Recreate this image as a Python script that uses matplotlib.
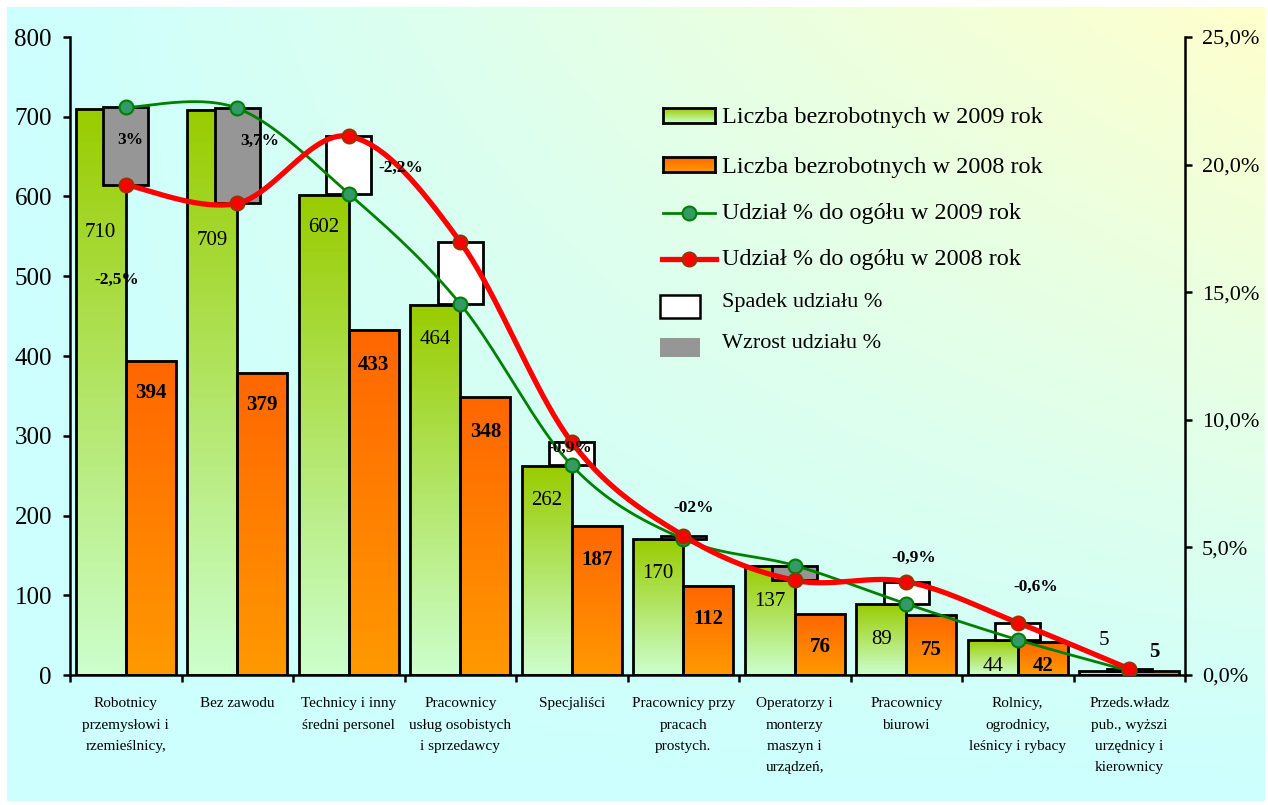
import numpy as np
import matplotlib
matplotlib.use('Agg')
from matplotlib import pyplot as plt
from matplotlib.lines import Line2D
from matplotlib.patches import Rectangle
from matplotlib.ticker import FuncFormatter, MultipleLocator

plt.rcParams['font.family'] = ['Liberation Serif', 'DejaVu Serif']

#%% data
categories = ['Robotnicy\nprzemysłowi i\nrzemieślnicy,', 'Bez zawodu',
              'Technicy i inny\nśredni personel', 'Pracownicy\nusług osobistych\ni sprzedawcy',
              'Specjaliści', 'Pracownicy przy\npracach\nprostych.',
              'Operatorzy i\nmonterzy\nmaszyn i\nurządzeń,', 'Pracownicy\nbiurowi',
              'Rolnicy,\nogrodnicy,\nleśnicy i rybacy',
              'Przeds.władz\npub., wyższi\nurzędnicy i\nkierownicy']
count_2009 = [710, 709, 602, 464, 262, 170, 137, 89, 44, 5]
count_2008 = [394, 379, 433, 348, 187, 112, 76, 75, 42, 5]
share_2009 = [22.24, 22.21, 18.86, 14.54, 8.21, 5.33, 4.29, 2.79, 1.38, 0.16]   # % of total
share_2008 = [19.21, 18.48, 21.11, 16.97, 9.12, 5.46, 3.71, 3.66, 2.05, 0.24]
diff_labels = ['3%', '-2,5%', '3,7%', '-2,2%', '-0,9%', '-02%', '-0,9%', '-0,6%']

# label placement (layout only)
lab09_off = [-124, -131, -33, -35, -34, -34, -36, -35, -27, 31]   # px from bar top
lab08_off = [-32, -32, -35, -35, -34, -33, -33, -35, -24, 19]
diff_pos = [(0.04, 20.96), (-0.08, 15.48), (1.20, 20.92), (2.47, 19.87),
            (3.98, 8.89), (5.09, 6.54), (7.07, 4.58), (8.16, 3.45)]

W, H = 1268, 805
def px2fig(x, y, w, h):
    return [x / W, 1 - (y + h) / H, w / W, h / H]

def smooth(xs, ys, n=40):
    pts = np.column_stack([xs, ys]).astype(float)
    P = np.vstack([pts[0], pts, pts[-1]])
    out = []
    for i in range(len(pts) - 1):
        p0, p1, p2, p3 = P[i], P[i + 1], P[i + 2], P[i + 3]
        c1 = p1 + (p2 - p0) / 6
        c2 = p2 - (p3 - p1) / 6
        t = np.linspace(0, 1, n)[:, None]
        out.append((1 - t)**3 * p1 + 3 * (1 - t)**2 * t * c1 + 3 * (1 - t) * t**2 * c2 + t**3 * p2)
    out = np.vstack(out)
    return out[:, 0], out[:, 1]

def vgrad(top, bottom, n=100):
    top = np.array(matplotlib.colors.to_rgb(top))
    bottom = np.array(matplotlib.colors.to_rgb(bottom))
    t = np.linspace(0, 1, n)[:, None]
    return (top * (1 - t) + bottom * t)[:, None, :]

GREEN_TOP, GREEN_BOT = '#99CC00', '#CCFFCC'
ORANGE_TOP, ORANGE_BOT = '#FF6600', '#FF9900'

fig = plt.figure(figsize=(W / 100, H / 100), dpi=100, facecolor='white')

#%% background gradient
bg = fig.add_axes(px2fig(7, 7, 1258, 794), zorder=-5)
xx, yy = np.meshgrid(np.linspace(0, 1, 300), np.linspace(0, 1, 200))
tt = np.clip(xx * (1 - yy), 0, 1)[:, :, None]
cyan = np.array([0.80, 1.0, 1.0]); yellow = np.array([1.0, 1.0, 0.80])
bg.imshow(cyan * (1 - tt) + yellow * tt, aspect='auto', extent=(0, 1, 0, 1), origin='upper')
bg.set_axis_off()

#%% main axes
ax = fig.add_axes(px2fig(70, 37, 1115, 638))
ax.set_facecolor('none')
x = np.arange(len(categories))
w = 0.45

bars09 = ax.bar(x - w / 2, count_2009, w, facecolor='none', edgecolor='black', linewidth=2, zorder=3)
bars08 = ax.bar(x + w / 2, count_2008, w, facecolor='none', edgecolor='black', linewidth=2, zorder=3)
for bars, top, bot in [(bars09, GREEN_TOP, GREEN_BOT), (bars08, ORANGE_TOP, ORANGE_BOT)]:
    for b in bars:
        x0, y0, bw, bh = b.get_x(), b.get_y(), b.get_width(), b.get_height()
        ax.imshow(vgrad(top, bot), aspect='auto', extent=(x0, x0 + bw, y0, y0 + bh),
                  origin='upper', zorder=2)

for i in range(len(categories)):
    ax.annotate(str(count_2009[i]), (x[i] - w / 2, count_2009[i]), xytext=(0, lab09_off[i] * 0.72),
                textcoords='offset points', ha='center', va='center', fontsize=15, zorder=4)
    ax.annotate(str(count_2008[i]), (x[i] + w / 2, count_2008[i]), xytext=(0, lab08_off[i] * 0.72),
                textcoords='offset points', ha='center', va='center', fontsize=15,
                fontweight='bold', zorder=4)

ax.set_xlim(-0.5, len(categories) - 0.5)
ax.set_ylim(0, 800)
ax.yaxis.set_major_locator(MultipleLocator(100))
ax.set_xticks(np.arange(-0.5, len(categories)))
ax.set_xticklabels([])
ax.set_xticks(x, minor=True)
ax.set_xticklabels(categories, minor=True, fontsize=11, linespacing=1.84)
ax.tick_params(axis='x', which='minor', length=0, pad=16)
ax.tick_params(axis='x', which='major', length=5, width=1.8, direction='out')
ax.tick_params(axis='y', length=5, width=1.8, direction='out', labelsize=18, pad=8)
for s in ['top', 'right']:
    ax.spines[s].set_visible(False)
for s in ['left', 'bottom']:
    ax.spines[s].set_linewidth(1.8)

#%% secondary axis: shares and up/down boxes
ax2 = ax.twinx()
ax2.set_ylim(0, 25)
ax2.yaxis.set_major_locator(MultipleLocator(5))
ax2.yaxis.set_major_formatter(FuncFormatter(lambda v, p: ('%.1f%%' % v).replace('.', ',')))
ax2.tick_params(axis='y', length=5, width=1.8, direction='out', labelsize=16, pad=7)
for s in ['top', 'left', 'bottom']:
    ax2.spines[s].set_visible(False)
ax2.spines['right'].set_linewidth(1.8)

bw2 = 0.4
for i in range(len(categories)):
    lo, hi = min(share_2008[i], share_2009[i]), max(share_2008[i], share_2009[i])
    fc = '#969696' if share_2009[i] > share_2008[i] else 'white'
    ax2.bar(x[i], hi - lo, bw2, bottom=lo, facecolor=fc, edgecolor='black', linewidth=2, zorder=2)

sx, sy = smooth(x, share_2009)
ax2.plot(sx, sy, color='#008000', lw=2, zorder=3)
ax2.plot(x, share_2009, ls='none', marker='o', ms=10, mfc='#339966', mec='#008000', mew=1.5, zorder=4)
sx, sy = smooth(x, share_2008)
ax2.plot(sx, sy, color='#FF0000', lw=3.8, zorder=5)
ax2.plot(x, share_2008, ls='none', marker='o', ms=10, mfc='#FF0000', mec='#993300', mew=1.5, zorder=6)

for txt, (px_, py_) in zip(diff_labels, diff_pos):
    ax2.text(px_, py_, txt, ha='center', va='center', fontsize=12.5, fontweight='bold', zorder=7)

#%% legend (drawn by hand)
for (yy0, top, bot) in [(108, GREEN_TOP, GREEN_BOT), (157, ORANGE_TOP, ORANGE_BOT)]:
    la = fig.add_axes(px2fig(663, yy0, 52, 15))
    la.imshow(vgrad(top, bot), aspect='auto', extent=(0, 1, 0, 1), origin='upper')
    la.set_xticks([]); la.set_yticks([])
    for s in la.spines.values():
        s.set_linewidth(2)

fig.add_artist(Line2D([663 / W, 715 / W], [1 - 213 / H] * 2, color='#008000', lw=2))
fig.add_artist(Line2D([689 / W], [1 - 213 / H], ls='none', marker='o', ms=10,
                      mfc='#339966', mec='#008000', mew=1.5))
fig.add_artist(Line2D([662 / W, 716 / W], [1 - 259 / H] * 2, color='#FF0000', lw=3.8))
fig.add_artist(Line2D([689 / W], [1 - 259 / H], ls='none', marker='o', ms=10,
                      mfc='#FF0000', mec='#993300', mew=1.5))
fig.add_artist(Rectangle((660 / W, 1 - 318 / H), 40 / W, 23 / H, transform=fig.transFigure,
                         facecolor='white', edgecolor='black', lw=1.8))
fig.add_artist(Rectangle((660 / W, 1 - 357 / H), 40 / W, 19 / H, transform=fig.transFigure,
                         facecolor='#969696', edgecolor='none'))

leg_text = ['Liczba bezrobotnych w 2009 rok', 'Liczba bezrobotnych w 2008 rok',
            'Udział % do ogółu w 2009 rok', 'Udział % do ogółu w 2008 rok',
            'Spadek udziału %', 'Wzrost udziału %']
leg_y = [118, 167, 214, 260, 302, 343]
leg_fs = [17.5, 17.5, 17.5, 17.5, 16, 16]
for t, yy0, fs in zip(leg_text, leg_y, leg_fs):
    fig.text(722 / W, 1 - yy0 / H, t, va='center', ha='left', fontsize=fs)

fig.savefig('out.png', dpi=100)
